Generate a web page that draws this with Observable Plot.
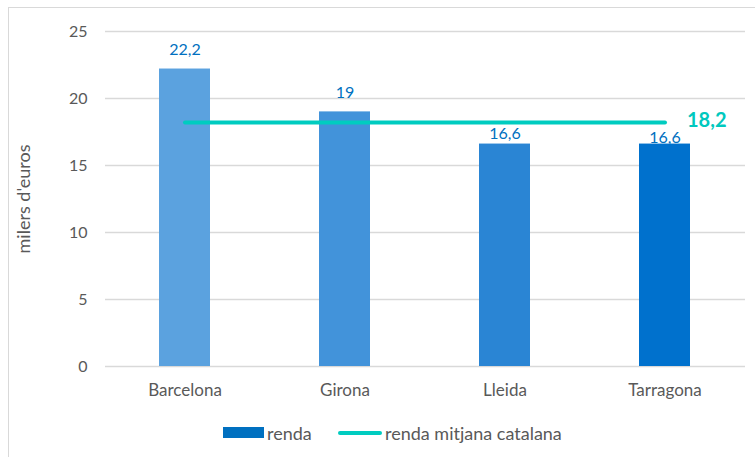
<!DOCTYPE html>
<html><head><meta charset="utf-8">
<script src="https://cdn.jsdelivr.net/npm/d3@7"></script>
<script src="https://cdn.jsdelivr.net/npm/@observablehq/plot@0.6"></script>
<style>
html,body{margin:0;padding:0;width:755px;height:457px;overflow:hidden;background:#fff;font-family:"Lato",sans-serif;}
#frame{position:absolute;left:8px;top:7px;width:800px;height:500px;border:1px solid #d9d9d9;box-sizing:border-box;}
#chart{position:absolute;left:0;top:0;}
#legend{position:absolute;left:0;top:422px;width:755px;height:22px;font-size:18px;color:#595959;line-height:22px;}
.sw{position:absolute;}
</style></head>
<body>
<div id="frame"></div>
<div id="chart"></div>
<div id="legend">
  <div class="sw" style="left:223px;top:5px;width:41px;height:11px;background:#0070C0"></div>
  <div class="sw" style="left:267px;top:0;">renda</div>
  <div class="sw" style="left:338px;top:9px;width:44px;height:4px;border-radius:2px;background:#00CCC0"></div>
  <div class="sw" style="left:385px;top:0;">renda mitjana catalana</div>
</div>
<script>
const provinces = ["Barcelona", "Girona", "Lleida", "Tarragona"];
const renda = [22.2, 19, 16.6, 16.6];
const mitjana = 18.2;
const yTicks = [0, 5, 10, 15, 20, 25];

const barColors = ["#5BA2DF", "#4293DA", "#2A85D4", "#0071CD"];
const fmt = v => String(v).replace(".", ",");
const rows = provinces.map((p, i) => ({province: p, value: renda[i]}));
const avgRows = provinces.map(p => ({province: p, value: mitjana}));

const labelFont = {fontSize: 16, fill: "#0070C0", lineAnchor: "bottom"};

const chart = Plot.plot({
  width: 755, height: 410,
  marginTop: 31, marginBottom: 44, marginLeft: 105, marginRight: 10,
  style: {fontFamily: "Lato, sans-serif", fontSize: "16px", color: "#595959", background: "transparent"},
  x: {domain: provinces, paddingInner: 0.68, paddingOuter: 0.34, label: null, axis: null},
  y: {domain: [0, 25], ticks: yTicks, label: null, tickSize: 0, tickPadding: 18},
  color: {domain: provinces, range: barColors},
  marks: [
    Plot.ruleY(yTicks, {stroke: "#d9d9d9", strokeWidth: 1.3}),
    Plot.axisX({tickSize: 0, tickPadding: 17, fontSize: 17, label: null}),
    Plot.barY(rows, {x: "province", y: "value", fill: "province"}),
    Plot.line(avgRows, {x: "province", y: "value", stroke: "#00CCC0", strokeWidth: 4, strokeLinecap: "round"}),
    Plot.text(rows.slice(0, 2), {x: "province", y: "value", text: d => fmt(d.value), dy: -14, ...labelFont}),
    Plot.text(rows.slice(2, 3), {x: "province", y: "value", text: d => fmt(d.value), dy: -5, ...labelFont}),
    Plot.text(rows.slice(3, 4), {x: "province", y: "value", text: d => fmt(d.value), dy: -1, ...labelFont}),
    Plot.text(avgRows.slice(3), {x: "province", y: "value", text: d => fmt(d.value), dx: 22, dy: -2, textAnchor: "start", fontSize: 20, fontWeight: "bold", fill: "#00C8BE"})
  ]
});
document.getElementById("chart").appendChild(chart);

// y-axis title
const svg = d3.select(chart);
svg.append("text")
  .attr("transform", "translate(30,199) rotate(-90)")
  .attr("text-anchor", "middle")
  .attr("font-size", 18)
  .attr("fill", "#595959")
  .text("milers d'euros");
</script>
</body></html>
